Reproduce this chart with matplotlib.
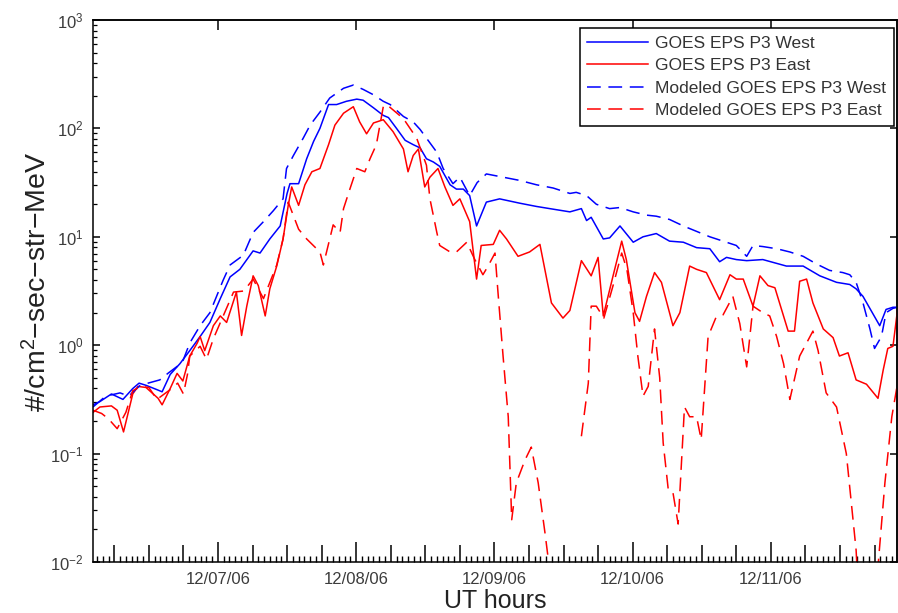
import numpy as np
import matplotlib
matplotlib.use('Agg')
import matplotlib.pyplot as plt
from matplotlib.ticker import FixedLocator, MultipleLocator, FuncFormatter, NullLocator, LogLocator

plt.rcParams['font.family'] = ['Liberation Sans', 'DejaVu Sans']
plt.rcParams['mathtext.fontset'] = 'custom'
plt.rcParams['mathtext.rm'] = 'Liberation Sans'
plt.rcParams['mathtext.it'] = 'Liberation Sans:italic'

# time in hours since 12/06/06 00:00 UT, flux as log10(#/cm2-sec-str-MeV)
west_h = [2.3, 3.5, 5.5, 7.5, 9.2, 10.3, 11.5, 13.4, 14.3, 15.7, 17.4, 19.1, 20.9, 22.6,
          24.4, 26.1, 27.8, 30.1, 31.3, 33.0, 34.8, 36.0, 36.5, 38.0, 39.4, 40.6, 41.7,
          43.2, 44.6, 46.3, 48.1, 49.2, 51.0, 52.7, 53.6, 55.0, 56.5, 57.9, 59.1, 60.2,
          61.4, 62.5, 64.3, 65.4, 66.6, 67.7, 68.9, 70.6, 72.9, 76.4, 79.3, 81.6, 85.1,
          87.1, 88.0, 88.8, 90.9, 92.0, 93.8, 96.1, 97.8, 100.1, 102.4, 104.8, 107.1,
          109.4, 111.1, 112.3, 114.0, 115.8, 118.6, 122.7, 125.6, 128.5, 131.4, 133.7,
          134.8, 136.0, 138.9, 140.0, 141.2, 142.0]
west_log = [-0.55, -0.52, -0.45, -0.50, -0.40, -0.35, -0.37, -0.41, -0.43, -0.27, -0.17,
            -0.05, 0.08, 0.21, 0.43, 0.63, 0.70, 0.87, 0.85, 0.98, 1.10, 1.40, 1.49, 1.49,
            1.72, 1.88, 2.00, 2.22, 2.22, 2.25, 2.27, 2.26, 2.19, 2.12, 2.10, 2.00, 1.89,
            1.85, 1.82, 1.72, 1.69, 1.65, 1.48, 1.44, 1.44, 1.38, 1.10, 1.32, 1.35, 1.31,
            1.28, 1.26, 1.23, 1.26, 1.15, 1.18, 0.98, 0.99, 1.10, 0.95, 1.00, 1.03, 0.96,
            0.95, 0.90, 0.89, 0.77, 0.81, 0.79, 0.78, 0.79, 0.73, 0.73, 0.64, 0.58, 0.56,
            0.52, 0.45, 0.18, 0.33, 0.35, 0.35]

east_h = [2.3, 3.5, 5.5, 6.5, 7.6, 9.2, 10.1, 11.5, 13.6, 14.3, 15.7, 16.9, 17.9, 19.1,
          20.4, 20.9, 21.7, 23.2, 24.4, 25.5, 27.2, 28.1, 29.0, 30.1, 31.0, 32.2, 33.0,
          34.2, 35.3, 36.2, 36.8, 38.0, 39.1, 40.3, 41.7, 43.2, 44.3, 45.8, 47.5, 48.6,
          49.8, 51.0, 52.7, 54.4, 56.2, 57.0, 57.9, 58.8, 59.9, 60.8, 62.2, 63.4, 64.8,
          66.0, 67.7, 68.9, 69.7, 71.8, 72.9, 74.1, 76.1, 78.1, 79.9, 81.9, 83.9, 85.1,
          87.1, 88.8, 90.0, 90.9, 92.6, 94.1, 94.9, 96.4, 97.2, 98.4, 99.8, 101.0, 103.0,
          104.2, 105.9, 107.1, 108.8, 111.1, 112.9, 114.0, 115.2, 116.9, 118.1, 119.5,
          120.7, 123.0, 124.1, 125.0, 126.2, 127.3, 129.1, 130.8, 131.9, 133.4, 134.8,
          136.6, 138.6, 139.5, 140.3, 141.2, 142.0]
east_log = [-0.62, -0.57, -0.56, -0.60, -0.80, -0.45, -0.38, -0.39, -0.49, -0.55, -0.40,
            -0.26, -0.33, -0.10, 0.02, 0.08, -0.05, 0.18, 0.27, 0.21, 0.49, 0.09, 0.36,
            0.64, 0.55, 0.27, 0.52, 0.73, 0.98, 1.29, 1.46, 1.29, 1.48, 1.60, 1.63, 1.85,
            2.03, 2.14, 2.20, 2.06, 1.95, 2.05, 2.08, 1.97, 1.81, 1.60, 1.75, 1.81, 1.46,
            1.55, 1.63, 1.46, 1.29, 1.35, 1.14, 0.61, 0.92, 0.93, 1.06, 0.98, 0.82, 0.86,
            0.93, 0.39, 0.25, 0.32, 0.78, 0.64, 0.81, 0.27, 0.64, 0.96, 0.79, 0.30, 0.22,
            0.45, 0.67, 0.58, 0.18, 0.30, 0.73, 0.70, 0.67, 0.42, 0.65, 0.61, 0.61, 0.36,
            0.64, 0.55, 0.53, 0.13, 0.13, 0.59, 0.61, 0.39, 0.15, 0.07, -0.10, -0.07,
            -0.32, -0.36, -0.49, -0.23, -0.03, -0.01, 0.33]

mod_west_h = [2.3, 4.5, 7.0, 8.5, 10.5, 13.9, 15.3, 17.8, 19.1, 20.9, 22.6, 24.9, 26.1,
              28.4, 30.1, 31.9, 33.6, 35.3, 35.9, 37.1, 38.8, 40.0, 41.7, 43.4, 45.8,
              47.5, 49.2, 51.0, 52.7, 53.9, 56.2, 57.9, 59.1, 60.2, 62.0, 63.1, 64.8,
              66.0, 67.7, 69.0, 70.6, 73.5, 76.4, 79.3, 82.2, 85.1, 86.2, 88.0, 89.7,
              92.0, 93.8, 96.1, 98.4, 100.1, 102.4, 104.8, 107.1, 109.4, 111.7, 114.0,
              115.8, 116.9, 118.6, 121.0, 123.3, 125.6, 127.9, 130.2, 132.5, 133.7,
              134.8, 136.0, 137.2, 138.0, 139.2, 140.0, 141.2, 142.0]
mod_west_log = [-0.57, -0.47, -0.44, -0.47, -0.37, -0.32, -0.26, -0.16, 0.02, 0.18, 0.30,
                0.60, 0.74, 0.83, 1.04, 1.14, 1.24, 1.35, 1.63, 1.75, 1.91, 2.03, 2.15,
                2.28, 2.37, 2.40, 2.36, 2.31, 2.25, 2.22, 2.11, 2.06, 1.99, 1.91, 1.78,
                1.63, 1.49, 1.55, 1.38, 1.50, 1.58, 1.55, 1.52, 1.48, 1.45, 1.40, 1.41,
                1.38, 1.30, 1.26, 1.27, 1.23, 1.20, 1.19, 1.16, 1.10, 1.05, 1.00, 0.96,
                0.92, 0.82, 0.92, 0.91, 0.89, 0.86, 0.82, 0.75, 0.69, 0.67, 0.65, 0.58,
                0.39, 0.15, -0.03, 0.08, 0.30, 0.34, 0.35]

mod_east_h = [2.3, 3.8, 5.0, 6.5, 8.0, 9.2, 10.6, 12.0, 13.4, 15.7, 17.0, 18.0, 18.7,
              19.1, 20.9, 22.0, 23.2, 26.7, 28.5, 30.1, 31.9, 34.2, 35.3, 36.2, 38.0,
              39.4, 41.7, 42.3, 44.0, 45.2, 45.8, 46.9, 48.1, 49.5, 50.4, 51.5, 52.7,
              53.3, 56.2, 58.5, 60.2, 60.8, 62.0, 62.5, 64.3, 65.4, 67.2, 68.5, 70.0,
              70.9, 72.1, 72.6, 73.5, 74.4, 75.0, 75.8, 77.3, 78.4, 79.6, 80.8, 81.6,
              82.2, 84.0, 87.1, 88.3, 88.8, 89.7, 91.0, 92.6, 94.1, 95.0, 96.1, 96.9,
              97.8, 98.7, 99.8, 100.7, 101.3, 102.2, 103.0, 103.9, 105.0, 105.9, 107.1,
              107.9, 109.1, 110.5, 111.7, 113.4, 114.6, 115.8, 116.9, 118.6, 119.8,
              121.0, 122.2, 123.3, 125.0, 127.3, 128.2, 129.6, 131.4, 133.1, 134.8,
              135.2, 138.2, 139.8, 141.0, 142.0]
mod_east_log = [-0.60, -0.63, -0.68, -0.77, -0.62, -0.42, -0.38, -0.39, -0.50, -0.41,
                -0.35, -0.45, -0.27, -0.10, -0.01, -0.13, 0.06, 0.49, 0.50, 0.61, 0.43,
                0.74, 0.98, 1.32, 1.07, 0.98, 0.86, 0.74, 1.11, 1.04, 1.26, 1.44, 1.63,
                1.60, 1.72, 1.85, 2.20, 2.22, 2.09, 1.91, 1.66, 1.35, 1.04, 0.92, 0.86,
                0.86, 0.95, 0.80, 0.65, 0.73, 0.85, 0.50, -0.10, -0.66, -1.61, -1.27,
                -1.06, -0.94, -1.27, -1.74, -2.08, -2.60, np.nan, -0.84, -0.35, 0.36,
                0.36, 0.25, 0.55, 0.85, 0.70, 0.30, -0.10, -0.47, -0.38, 0.15, -0.30,
                -0.90, -1.34, -1.36, -1.65, -0.57, -0.66, -0.66, -0.87, 0.08, 0.26, 0.28,
                0.45, 0.20, -0.20, 0.36, 0.30, 0.27, 0.08, -0.17, -0.50, -0.10, 0.13,
                -0.05, -0.44, -0.57, -1.00, -1.89, -2.30, -2.30, -1.27, -0.66, -0.35]

day_hours = [24, 48, 72, 96, 120]
day_labels = ['12/07/06', '12/08/06', '12/09/06', '12/10/06', '12/11/06']

fig = plt.figure(figsize=(8.98, 6.13), dpi=100)
ax = fig.add_axes([93 / 898, 1 - 562 / 613, 804 / 898, 542 / 613])

ax.plot(west_h, 10 ** np.array(west_log), color='blue', lw=1.1, label='GOES EPS P3 West')
ax.plot(east_h, 10 ** np.array(east_log), color='red', lw=1.1, label='GOES EPS P3 East')
ax.plot(mod_west_h, 10 ** np.array(mod_west_log), color='blue', lw=1.1, ls=(0, (9, 5)),
        label='Modeled GOES EPS P3 West')
ax.plot(mod_east_h, 10 ** np.array(mod_east_log), color='red', lw=1.1, ls=(0, (9, 5)),
        label='Modeled GOES EPS P3 East')

ax.set_yscale('log')
ax.set_xlim(2.3, 141.9)
ax.set_ylim(1e-2, 1e3)

# x ticks: tall at days, medium every 6 h, small every hour
six_hours = list(range(6, 142, 6))
ax.xaxis.set_major_locator(FixedLocator(six_hours))
ax.xaxis.set_major_formatter(FuncFormatter(
    lambda v, p: day_labels[day_hours.index(int(round(v)))] if int(round(v)) in day_hours else ''))
ax.xaxis.set_minor_locator(MultipleLocator(1))
ax.tick_params(axis='x', which='major', direction='in', length=12.5, width=1.1,
               labelsize=12, labelcolor='#3c3c3c', pad=7)
ax.tick_params(axis='x', which='minor', direction='in', length=4, width=1.0)
for t, v in zip(ax.xaxis.get_major_ticks(len(six_hours)), six_hours):
    if v in day_hours:
        t.tick1line.set_markersize(14.5)

ax.yaxis.set_major_locator(LogLocator(base=10, numticks=10))
ax.yaxis.set_minor_locator(LogLocator(base=10, subs=np.arange(2, 10), numticks=10))
ax.tick_params(axis='y', which='major', direction='in', length=5, width=1.1,
               labelsize=12, labelcolor='#3c3c3c', pad=7)
ax.tick_params(axis='y', which='minor', direction='in', length=3, width=0.9)
ax.yaxis.set_major_formatter(FuncFormatter(lambda v, p: r'$10^{%d}$' % int(round(np.log10(v)))))

top = ax.secondary_xaxis('top')
top.xaxis.set_major_locator(FixedLocator(day_hours))
top.xaxis.set_minor_locator(NullLocator())
top.tick_params(direction='in', length=7, width=1.1, labeltop=False)
right = ax.secondary_yaxis('right')
right.yaxis.set_major_locator(LogLocator(base=10, numticks=10))
right.yaxis.set_minor_locator(NullLocator())
right.tick_params(direction='in', length=5, width=1.1, labelright=False)

for s in list(ax.spines.values()) + [top.spines['top'], right.spines['right']]:
    s.set_linewidth(1.1)

ax.set_xlabel('UT hours', fontsize=18, color='#222222', labelpad=2)
ax.set_ylabel('#/cm$^2$\u2212sec\u2212str\u2212MeV', fontsize=20.5, color='#222222')
ax.yaxis.set_label_coords(-0.050, 0.517)

leg = ax.legend(loc='upper right', bbox_to_anchor=(894 / 898, 1 - 28 / 613),
                bbox_transform=fig.transFigure, borderaxespad=0, fontsize=12.5,
                fancybox=False, edgecolor='black', framealpha=1, handlelength=3.5,
                handletextpad=0.4, labelspacing=0.42, borderpad=0.45)
leg.get_frame().set_linewidth(1.1)
for txt in leg.get_texts():
    txt.set_color('#333333')

plt.savefig('out.png', dpi=100)
